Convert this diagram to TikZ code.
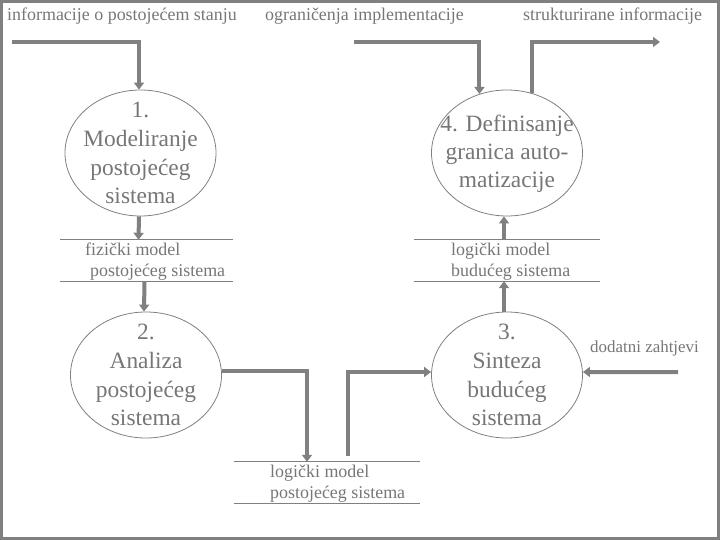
\documentclass[tikz,border=0pt]{standalone}
\usepackage{fontspec}
\setmainfont{Liberation Serif}
\usetikzlibrary{arrows.meta,shapes.geometric}
\definecolor{dgray}{RGB}{128,128,128}
\definecolor{tgray}{RGB}{118,118,118}
\begin{document}
\begin{tikzpicture}[x=1bp,y=-1bp,
  flow/.style={draw=dgray,line width=4bp,-{Triangle[width=10bp,length=7bp]}},
  proc/.style={ellipse,draw=dgray,line width=0.8bp,minimum width=151bp,minimum height=126bp,inner sep=0pt},
  ptext/.style={text=tgray,align=center,font=\fontsize{23.5}{29}\selectfont,inner sep=0pt},
  store/.style={minimum height=41bp,inner sep=0pt},
  sline/.style={draw=dgray,line width=1.2bp},
  stext/.style={text=tgray,align=left,font=\fontsize{18}{21.5}\selectfont,inner sep=0pt,anchor=west},
  lbl/.style={text=tgray,font=\fontsize{18}{21}\selectfont,inner sep=0pt,anchor=base west}]
\useasboundingbox (0,0) rectangle (720,540);
\draw[dgray,line width=3bp] (1.5,1.5) rectangle (718,538);

% top labels
\node[lbl] (l1) at (7,21) {informacije o postojećem stanju};
\node[lbl] (l2) at (265,21) {ograničenja implementacije};
\node[lbl] (l3) at (523,21) {strukturirane informacije};
\node[lbl,font=\fontsize{17}{20}\selectfont] (l4) at (590,352) {dodatni zahtjevi};

% processes
\node[proc] (ell1) at (140.5,153) {};
\node[ptext] (t1) at (ell1) {1.\\Modeliranje\\postojećeg\\sistema};
\node[proc] (ell2) at (146,375) {};
\node[ptext] (t2) at (ell2) {2.\\Analiza\\postojećeg\\sistema};
\node[proc] (ell3) at (507,375) {};
\node[ptext] (t3) at (ell3) {3.\\Sinteza\\budućeg\\sistema};
\node[proc] (ell4) at (507,153) {};
\node[ptext,font=\fontsize{23.5}{28}\selectfont] (t4) at ([yshift=-1bp]ell4.center) {4. Definisanje\\granica auto-\\matizacije};

% data stores
\node[store,minimum width=173bp] (s1) at (146.5,260.5) {};
\draw[sline] (s1.north west) -- (s1.north east);
\draw[sline] (s1.south west) -- (s1.south east);
\node[stext] (s1t) at (85,261.5) {fizički model\\\hspace*{5bp}postojećeg sistema};

\node[store,minimum width=186bp] (s2) at (507,260.5) {};
\draw[sline] (s2.north west) -- (s2.north east);
\draw[sline] (s2.south west) -- (s2.south east);
\node[stext] (s2t) at (451,261.5) {logički model\\budućeg sistema};

\node[store,minimum width=186bp] (s3) at (327,482.5) {};
\draw[sline] (s3.north west) -- (s3.north east);
\draw[sline] (s3.south west) -- (s3.south east);
\node[stext] (s3t) at (270,483.5) {logički model\\postojećeg sistema};

% free ends
\coordinate (in1) at (12,42);
\coordinate (in2) at (354,42);
\coordinate (out1) at (660,42);
\coordinate (in3) at (678,372);

% flows
\draw[flow] (in1) -| ([xshift=-1.5bp]ell1.north);
\draw[flow] ([xshift=-1.5bp]ell1.south) -- ([xshift=-8bp]s1.north);
\draw[flow] ([xshift=-2bp]s1.south) -- ([xshift=-2bp]ell2.north);
\draw[flow] ([yshift=4bp]ell2.east) -| ([xshift=-20bp]s3.north);
\draw[flow] ([xshift=21bp,yshift=6bp]s3.north) |- ([yshift=3bp]ell3.west);
\draw[flow] (in3) -- ([yshift=3bp]ell3.east);
\draw[flow] ([xshift=-3bp]ell3.north) -- ([xshift=-3bp]s2.south);
\draw[flow] ([xshift=-3bp]s2.north) -- ([xshift=-3bp]ell4.south);
\draw[flow] (in2) -| (ell4.115);
\draw[flow] (ell4.67) |- (out1);
\end{tikzpicture}
\end{document}
